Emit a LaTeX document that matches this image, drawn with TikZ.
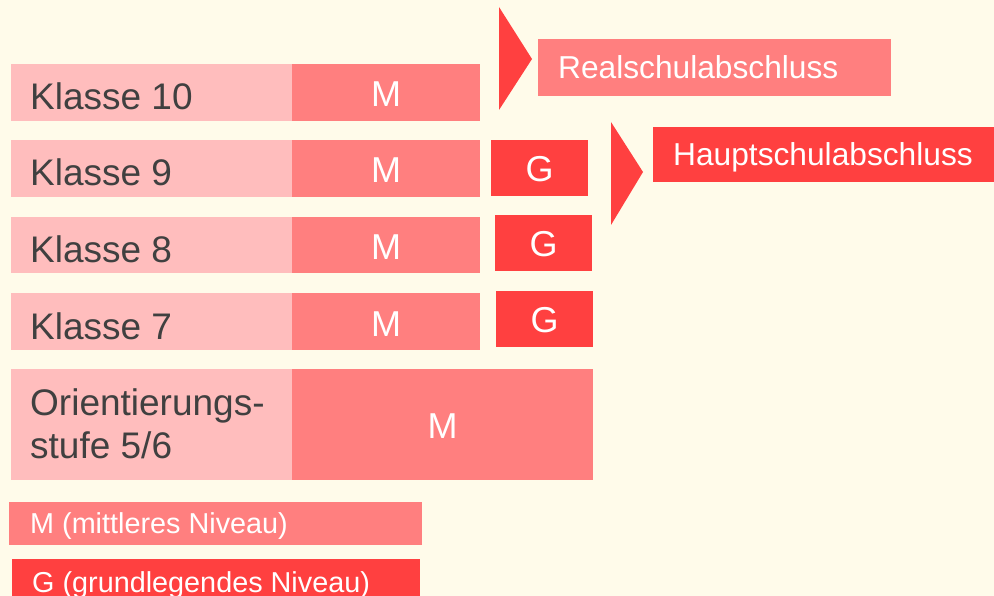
\documentclass[tikz,border=0pt]{standalone}
\usepackage{fontspec}
\setmainfont{Liberation Sans}
\definecolor{bg}{RGB}{255,251,234}
\definecolor{lightbox}{RGB}{255,189,189}
\definecolor{mcol}{RGB}{255,127,127}
\definecolor{gcol}{RGB}{255,64,64}
\definecolor{darktext}{RGB}{64,64,64}
\begin{document}
\begin{tikzpicture}[x=1pt,y=-1pt,
  labeltext/.style={text=darktext,font=\fontsize{37}{43}\selectfont,anchor=base west,inner sep=0pt},
  lettertext/.style={text=white,font=\fontsize{36}{43}\selectfont,anchor=base,inner sep=0pt},
  endtext/.style={text=white,font=\fontsize{31.7}{37}\selectfont,anchor=base west,inner sep=0pt},
  legtext/.style={text=white,font=\fontsize{28.8}{34}\selectfont,anchor=base west,inner sep=0pt}]
\fill[bg] (0,0) rectangle (994,596);
\useasboundingbox (0,0) rectangle (994,596);
% rows
\foreach \nm/\lab/\ya/\yb in {k10/Klasse 10/64/121, k9/Klasse 9/140/197, k8/Klasse 8/217/273, k7/Klasse 7/293/350}{
  \fill[lightbox] (11,\ya) rectangle (292,\yb);
  \node[labeltext] (\nm) at (30,{(\ya+\yb)/2+17.5}) {\lab};
  \fill[mcol] (292,\ya) rectangle (480,\yb);
  \node[lettertext] (\nm m) at (386,{(\ya+\yb)/2+14.5}) {M};
}
% G boxes
\fill[gcol] (491,140) rectangle (588,196);
\node[lettertext] (g9) at (539.5,182) {G};
\fill[gcol] (495,215) rectangle (592,271);
\node[lettertext] (g8) at (543.5,257) {G};
\fill[gcol] (496,291) rectangle (593,347);
\node[lettertext] (g7) at (544.5,333) {G};
% Orientierungsstufe
\fill[lightbox] (11,369) rectangle (292,480);
\node[labeltext] (os1) at (30,415) {Orientierungs-};
\node[labeltext] (os2) at (30,458) {stufe 5/6};
\fill[mcol] (292,369) rectangle (593,480);
\node[lettertext] (osm) at (442.5,438) {M};
% arrows
\fill[gcol] (499,7) -- (532,59) -- (499,110) -- cycle;
\fill[mcol] (538,39) rectangle (891,96);
\node[endtext] (rs) at (558,79) {Realschulabschluss};
\fill[gcol] (611,122) -- (643,172) -- (611,225) -- cycle;
\fill[gcol] (653,127) rectangle (1000,182);
\node[endtext] (hs) at (673,166) {Hauptschulabschluss};
% legend
\fill[mcol] (9,502) rectangle (422,545);
\node[legtext] (lm) at (30,533) {M (mittleres Niveau)};
\fill[gcol] (12,559) rectangle (420,610);
\node[legtext] (lg) at (32,592) {G (grundlegendes Niveau)};
\end{tikzpicture}
\end{document}
